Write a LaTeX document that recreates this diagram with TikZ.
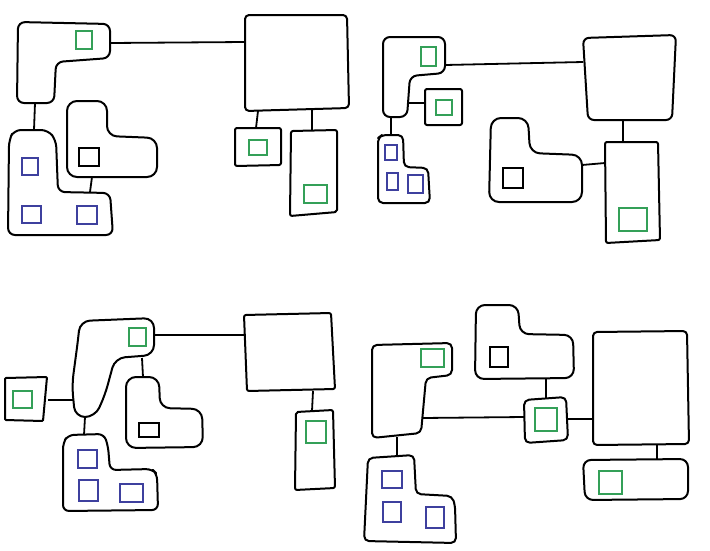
\documentclass[tikz,border=0pt]{standalone}
\definecolor{sqgreen}{RGB}{52,160,88}
\definecolor{sqblue}{RGB}{62,64,158}
\begin{document}
\begin{tikzpicture}[x=1pt,y=-1pt,
  outline/.style={draw=black,line width=2pt,rounded corners=7pt,line join=round},
  boxline/.style={draw=black,line width=2pt,rounded corners=2pt,line join=round},
  link/.style={draw=black,line width=1.8pt},
  gsq/.style={draw=sqgreen,line width=2.6pt},
  bsq/.style={draw=sqblue,line width=2.6pt},
  ksq/.style={draw=black,line width=2.8pt}]
\useasboundingbox (0,0) rectangle (710,550);
% ================= Quadrant 1 =================
\draw[outline] (18,22) -- (110,24) -- (110,58) -- (56,62) -- (54,103) -- (17,103) -- cycle;
\draw[gsq] (76,31) rectangle (92,49);
\draw[boxline,rounded corners=4pt] (245,15) -- (347,15) -- (349,108) -- (245,111) -- cycle;
\draw[boxline] (235,128) -- (281,128) -- (281,165) -- (235,166) -- cycle;
\draw[gsq] (249,140) rectangle (267,155);
\draw[boxline] (291,131) -- (337,130) -- (337,212) -- (290,216) -- cycle;
\draw[gsq] (304,185) rectangle (327,203);
\draw[outline] (8,235) -- (9,140) -- (14,130) -- (48,130) -- (56,140) -- (58,192) -- (110,193) -- (113,235) -- cycle;
\draw[bsq] (22,158) rectangle (38,175);
\draw[bsq] (22,206) rectangle (41,223);
\draw[bsq] (77,206) rectangle (97,224);
\draw[outline,rounded corners=10pt] (67,177) -- (67,101) -- (107,101) -- (107,136) -- (157,138) -- (157,177) -- cycle;
\draw[ksq] (79,148) rectangle (99,166);
\coordinate (a1) at (110,43); \coordinate (b1) at (245,42);
\coordinate (a2) at (35,103); \coordinate (e1) at (34,130);
\coordinate (e2) at (90,192); \coordinate (f1) at (92,177);
\coordinate (b2) at (258,111); \coordinate (c1) at (256,128);
\coordinate (b3) at (312,110); \coordinate (d1) at (312,130);
\draw[link] (a1) -- (b1);
\draw[link] (a2) -- (e1);
\draw[link] (e2) -- (f1);
\draw[link] (b2) -- (c1);
\draw[link] (b3) -- (d1);
% ================= Quadrant 2 =================
\draw[outline] (383,37) -- (445,37) -- (445,73) -- (410,76) -- (407,117) -- (383,117) -- cycle;
\draw[gsq] (421,47) rectangle (436,66);
\draw[boxline,rounded corners=6pt] (583,38) -- (676,35) -- (672,120) -- (588,120) -- cycle;
\draw[boxline] (425,89) -- (462,89) -- (462,125) -- (425,125) -- cycle;
\draw[gsq] (436,100) rectangle (452,115);
\draw[outline,rounded corners=5pt] (378,203) -- (378,138) -- (382,135) -- (403,135) -- (404,167) -- (428,168) -- (430,203) -- cycle;
\draw[bsq] (385,145) rectangle (397,160);
\draw[bsq] (387,173) rectangle (398,190);
\draw[bsq] (408,175) rectangle (423,193);
\draw[boxline] (605,142) -- (658,142) -- (660,240) -- (606,243) -- cycle;
\draw[gsq] (619,208) rectangle (647,231);
\draw[outline,rounded corners=10pt] (489,202) -- (491,118) -- (528,118) -- (530,153) -- (582,155) -- (582,202) -- cycle;
\draw[ksq] (503,168) rectangle (523,188);
\coordinate (g1) at (445,65); \coordinate (h1) at (583,62);
\coordinate (g2) at (408,103); \coordinate (i1) at (425,103);
\coordinate (g3) at (391,117); \coordinate (j1) at (391,135);
\coordinate (h2) at (623,120); \coordinate (k1) at (623,142);
\coordinate (l1) at (582,165); \coordinate (k2) at (605,163);
\draw[link] (g1) -- (h1);
\draw[link] (g2) -- (i1);
\draw[link] (g3) -- (j1);
\draw[link] (h2) -- (k1);
\draw[link] (l1) -- (k2);
% ================= Quadrant 3 =================
\draw[outline,rounded corners=10pt] (80,321) -- (154,318) -- (154,355) -- (115,358) -- (105,395) -- (95,417) -- (75,417) -- (72,385) -- (78,340) -- cycle;
\draw[gsq] (129,328) rectangle (146,346);
\draw[boxline] (244,315) -- (331,313) -- (335,389) -- (247,391) -- cycle;
\draw[boxline] (296,412) -- (333,410) -- (335,488) -- (295,490) -- cycle;
\draw[gsq] (306,421) rectangle (326,443);
\draw[boxline,rounded corners=1pt] (5,378) -- (47,377) -- (43,421) -- (5,420) -- cycle;
\draw[gsq] (13,391) rectangle (32,408);
\draw[outline,rounded corners=6pt] (63,511) -- (63,443) -- (68,435) -- (104,434) -- (108,446) -- (110,470) -- (152,469) -- (157,474) -- (158,510) -- cycle;
\draw[bsq] (78,450) rectangle (97,468);
\draw[bsq] (79,480) rectangle (98,501);
\draw[bsq] (120,484) rectangle (143,502);
\draw[outline,rounded corners=10pt] (126,448) -- (126,377) -- (159,377) -- (160,408) -- (202,409) -- (203,447) -- cycle;
\draw[ksq] (139,423) rectangle (159,437);
\coordinate (m1) at (154,335); \coordinate (n1) at (244,335);
\coordinate (n2) at (313,391); \coordinate (o1) at (312,411);
\coordinate (p1) at (48,400); \coordinate (m2) at (73,400);
\coordinate (m3) at (85,417); \coordinate (q1) at (84,435);
\coordinate (m4) at (142,358); \coordinate (r1) at (143,377);
\draw[link] (m1) -- (n1);
\draw[link] (n2) -- (o1);
\draw[link] (p1) -- (m2);
\draw[link] (m3) -- (q1);
\draw[link] (m4) -- (r1);
% ================= Quadrant 4 =================
\draw[outline,rounded corners=5pt] (372,345) -- (452,343) -- (452,375) -- (426,378) -- (421,433) -- (372,438) -- cycle;
\draw[gsq] (421,349) rectangle (444,367);
\draw[boxline,rounded corners=5pt] (524,400) -- (566,397) -- (568,440) -- (525,443) -- cycle;
\draw[gsq] (535,408) rectangle (557,431);
\draw[boxline,rounded corners=4pt] (593,332) -- (687,331) -- (689,444) -- (593,445) -- cycle;
\draw[boxline,rounded corners=8pt] (583,460) -- (688,459) -- (688,499) -- (585,500) -- cycle;
\draw[gsq] (599,471) rectangle (622,494);
\draw[outline,rounded corners=9pt] (475,379) -- (476,305) -- (518,305) -- (520,334) -- (573,335) -- (574,378) -- cycle;
\draw[ksq] (490,347) rectangle (508,367);
\draw[outline,rounded corners=5pt] (364,541) -- (368,458) -- (414,455) -- (416,494) -- (452,496) -- (455,505) -- (456,543) -- cycle;
\draw[bsq] (382,471) rectangle (402,488);
\draw[bsq] (383,502) rectangle (401,522);
\draw[bsq] (426,507) rectangle (444,528);
\coordinate (s1) at (422,418); \coordinate (t1) at (524,417);
\coordinate (t2) at (568,419); \coordinate (u1) at (593,419);
\coordinate (u2) at (657,445); \coordinate (v1) at (657,459);
\coordinate (w1) at (546,379); \coordinate (t3) at (546,398);
\coordinate (s2) at (397,437); \coordinate (x1) at (397,456);
\draw[link] (s1) -- (t1);
\draw[link] (t2) -- (u1);
\draw[link] (u2) -- (v1);
\draw[link] (w1) -- (t3);
\draw[link] (s2) -- (x1);
\end{tikzpicture}
\end{document}
